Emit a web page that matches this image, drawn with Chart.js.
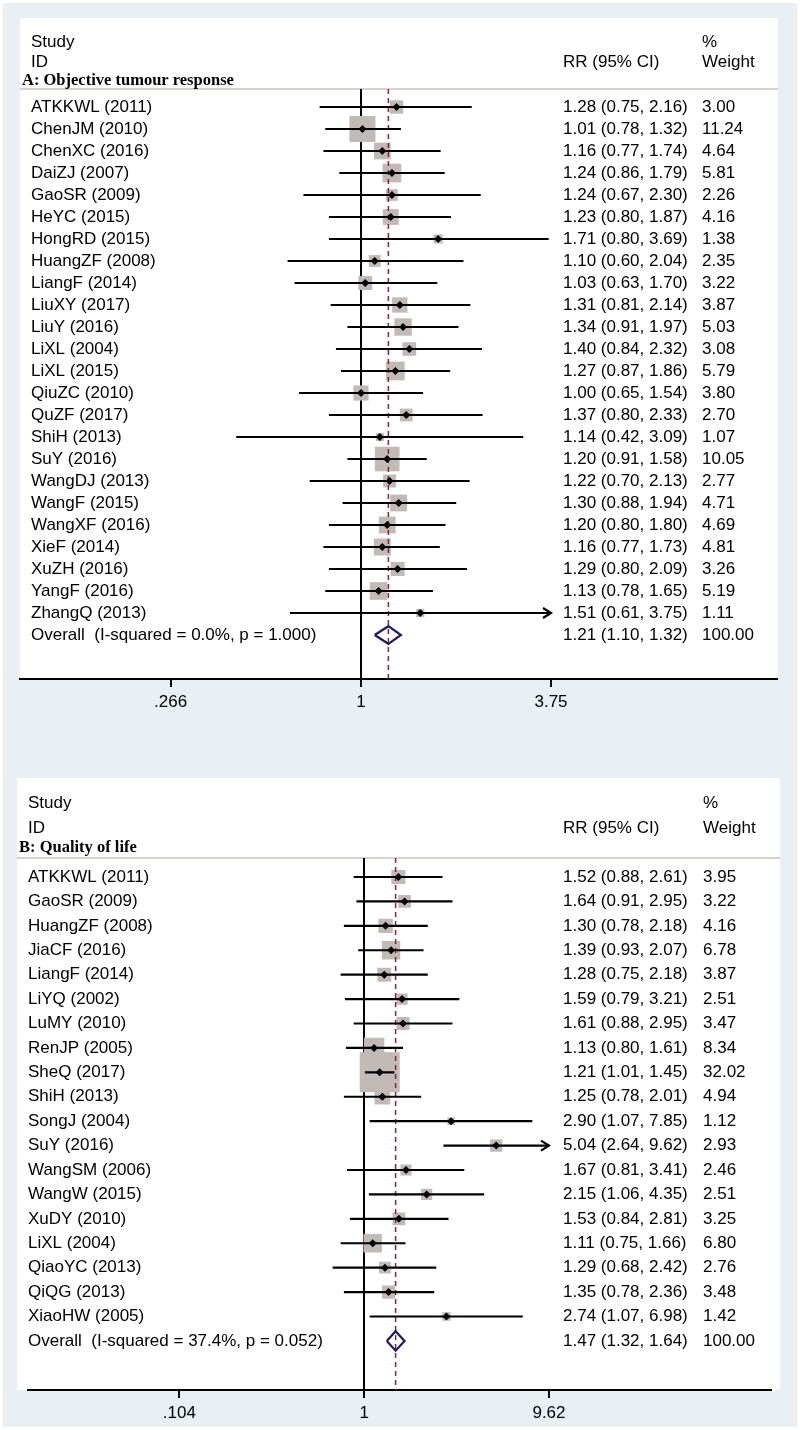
<!DOCTYPE html>
<html>
<head>
<meta charset="utf-8">
<script src="https://cdn.jsdelivr.net/npm/chart.js@4.4.1/dist/chart.umd.min.js"></script>
<style>
  body { margin: 0; background: #fff; }
  #bg { position: absolute; left: 3px; top: 3px; width: 794px; height: 1424px; background: #e9eff2; }
  canvas { position: absolute; left: 0; }
  #chartA { top: 0; }
  #chartB { top: 720px; }
</style>
</head>
<body>
<div id="bg"></div>
<canvas id="chartA" width="800" height="720"></canvas>
<canvas id="chartB" width="800" height="710"></canvas>
<script>
// A: Objective tumour response
const studiesA = ["ATKKWL (2011)", "ChenJM (2010)", "ChenXC (2016)", "DaiZJ (2007)", "GaoSR (2009)",
    "HeYC (2015)", "HongRD (2015)", "HuangZF (2008)", "LiangF (2014)", "LiuXY (2017)", "LiuY (2016)",
    "LiXL (2004)", "LiXL (2015)", "QiuZC (2010)", "QuZF (2017)", "ShiH (2013)", "SuY (2016)",
    "WangDJ (2013)", "WangF (2015)", "WangXF (2016)", "XieF (2014)", "XuZH (2016)", "YangF (2016)",
    "ZhangQ (2013)"];
const rrA = [1.28, 1.01, 1.16, 1.24, 1.24, 1.23, 1.71, 1.10, 1.03, 1.31, 1.34, 1.40, 1.27, 1.00, 1.37,
    1.14, 1.20, 1.22, 1.30, 1.20, 1.16, 1.29, 1.13, 1.51];
const lowA = [0.75, 0.78, 0.77, 0.86, 0.67, 0.80, 0.80, 0.60, 0.63, 0.81, 0.91, 0.84, 0.87, 0.65, 0.80,
    0.42, 0.91, 0.70, 0.88, 0.80, 0.77, 0.80, 0.78, 0.61];
const highA = [2.16, 1.32, 1.74, 1.79, 2.30, 1.87, 3.69, 2.04, 1.70, 2.14, 1.97, 2.32, 1.86, 1.54, 2.33,
    3.09, 1.58, 2.13, 1.94, 1.80, 1.73, 2.09, 1.65, 3.75];
const weightA = [3.00, 11.24, 4.64, 5.81, 2.26, 4.16, 1.38, 2.35, 3.22, 3.87, 5.03, 3.08, 5.79, 3.80, 2.70,
    1.07, 10.05, 2.77, 4.71, 4.69, 4.81, 3.26, 5.19, 1.11];
const overallA = [1.21, 1.10, 1.32];
const overallLabelA = "Overall  (I-squared = 0.0%, p = 1.000)";
const ticksA = [0.266, 1, 3.75];
const tickLabelsA = [".266", "1", "3.75"];

// B: Quality of life
const studiesB = ["ATKKWL (2011)", "GaoSR (2009)", "HuangZF (2008)", "JiaCF (2016)", "LiangF (2014)",
    "LiYQ (2002)", "LuMY (2010)", "RenJP (2005)", "SheQ (2017)", "ShiH (2013)", "SongJ (2004)",
    "SuY (2016)", "WangSM (2006)", "WangW (2015)", "XuDY (2010)", "LiXL (2004)", "QiaoYC (2013)",
    "QiQG (2013)", "XiaoHW (2005)"];
const rrB = [1.52, 1.64, 1.30, 1.39, 1.28, 1.59, 1.61, 1.13, 1.21, 1.25, 2.90, 5.04, 1.67, 2.15, 1.53,
    1.11, 1.29, 1.35, 2.74];
const lowB = [0.88, 0.91, 0.78, 0.93, 0.75, 0.79, 0.88, 0.80, 1.01, 0.78, 1.07, 2.64, 0.81, 1.06, 0.84,
    0.75, 0.68, 0.78, 1.07];
const highB = [2.61, 2.95, 2.18, 2.07, 2.18, 3.21, 2.95, 1.61, 1.45, 2.01, 7.85, 9.62, 3.41, 4.35, 2.81,
    1.66, 2.42, 2.36, 6.98];
const weightB = [3.95, 3.22, 4.16, 6.78, 3.87, 2.51, 3.47, 8.34, 32.02, 4.94, 1.12, 2.93, 2.46, 2.51, 3.25,
    6.80, 2.76, 3.48, 1.42];
const overallB = [1.47, 1.32, 1.64];
const overallLabelB = "Overall  (I-squared = 37.4%, p = 0.052)";
const ticksB = [0.104, 1, 9.62];
const tickLabelsB = [".104", "1", "9.62"];

const SANS = '17px "Liberation Sans", Arial, sans-serif';
const SERIF = 'bold 16.5px "Liberation Serif", "Times New Roman", serif';

// panel background, header, text columns and arrows
const forestText = {
    id: "forestText",
    beforeDraw(chart, args, o) {
        const ctx = chart.ctx;
        ctx.save();
        ctx.fillStyle = "#fff";
        ctx.fillRect(o.panel[0], o.panel[1], o.panel[2], o.panel[3]);
        ctx.strokeStyle = "#cbc3bf";
        ctx.lineWidth = 1.5;
        ctx.beginPath();
        ctx.moveTo(o.panel[0], chart.chartArea.top);
        ctx.lineTo(o.panel[0] + o.panel[2], chart.chartArea.top);
        ctx.stroke();
        ctx.restore();
    },
    afterDatasetsDraw(chart, args, o) {
        const ctx = chart.ctx, x = chart.scales.x, y = chart.scales.y;
        const lim = o.ticks[o.ticks.length - 1];
        ctx.save();
        ctx.strokeStyle = "#000";
        ctx.lineWidth = 2.2;
        o.high.forEach((h, i) => {
            if (h < lim) return;
            const px = x.getPixelForValue(h), py = y.getPixelForValue(i + 1);
            ctx.beginPath();
            ctx.moveTo(px - 8, py - 5);
            ctx.lineTo(px, py);
            ctx.lineTo(px - 8, py + 5);
            ctx.stroke();
        });
        ctx.restore();
    },
    afterDraw(chart, args, o) {
        const ctx = chart.ctx, y = chart.scales.y;
        ctx.save();
        ctx.fillStyle = "#000";
        ctx.textBaseline = "middle";
        ctx.textAlign = "left";
        ctx.font = SANS;
        ctx.fillText("Study", o.labelX, o.head[0]);
        ctx.fillText("ID", o.labelX, o.head[1]);
        ctx.fillText("%", o.wtX, o.head[0]);
        ctx.fillText("Weight", o.wtX, o.head[1]);
        ctx.fillText("RR (95% CI)", o.rrX, o.head[1]);
        ctx.font = SERIF;
        ctx.fillText(o.title, o.panel[0] + 2, o.head[2]);
        ctx.font = SANS;
        const n = o.studies.length;
        o.studies.forEach((s, i) => {
            const py = y.getPixelForValue(i + 1);
            ctx.fillText(s, o.labelX, py);
            ctx.fillText(o.rr[i].toFixed(2) + " (" + o.low[i].toFixed(2) + ", " + o.high[i].toFixed(2) + ")", o.rrX, py);
            ctx.fillText(o.weight[i].toFixed(2), o.wtX, py);
        });
        const py = y.getPixelForValue(n + 1);
        ctx.fillText(o.overallLabel, o.labelX, py);
        ctx.fillText(o.overall[0].toFixed(2) + " (" + o.overall[1].toFixed(2) + ", " + o.overall[2].toFixed(2) + ")", o.rrX, py);
        ctx.fillText("100.00", o.wtX, py);
        ctx.restore();
    }
};

function forest(id, d, L) {
    const n = d.studies.length;
    const rows = d.studies.map((s, i) => i + 1);
    const oRow = n + 1;
    const ci = [];
    rows.forEach((r, i) => {
        ci.push({ x: d.low[i], y: r }, { x: d.high[i], y: r }, { x: d.high[i], y: null });
    });
    const pts = rows.map((r, i) => ({ x: d.rr[i], y: r }));
    const [est, lo, hi] = d.overall;
    const diamond = [
        { x: lo, y: oRow }, { x: est, y: oRow - 0.4 }, { x: hi, y: oRow },
        { x: est, y: oRow + 0.4 }, { x: lo, y: oRow }
    ];
    const refLine = [{ x: est, y: L.yMin }, { x: est, y: L.yMax }];

    return new Chart(document.getElementById(id), {
        type: "scatter",
        data: {
            datasets: [
                {
                    data: pts, order: 0,
                    pointStyle: "rectRot", pointRadius: 4, backgroundColor: "#000", borderWidth: 0,
                },
                {
                    data: ci, order: 1, showLine: true, spanGaps: false,
                    borderColor: "#000", borderWidth: 2.2, pointRadius: 0,
                },
                {
                    data: diamond, order: 2, showLine: true,
                    borderColor: "#1d1d5e", borderWidth: 2.2, borderJoinStyle: "miter", pointRadius: 0,
                },
                {
                    data: refLine, order: 3, showLine: true,
                    borderColor: "#8e1f35", borderWidth: 1.5, borderDash: [5, 4], pointRadius: 0,
                },
                {
                    data: pts, order: 4,
                    pointStyle: "rect", backgroundColor: "#c1bab6", borderWidth: 0,
                    pointRadius: (c) => L.box * Math.sqrt(d.weight[c.dataIndex]) / Math.SQRT2,
                },
            ],
        },
        options: {
            responsive: false,
            animation: false,
            events: [],
            layout: { padding: { left: L.left, right: L.right, top: L.top, bottom: L.bottom } },
            plugins: {
                legend: { display: false },
                tooltip: { enabled: false },
                forestText: Object.assign({}, d, L),
            },
            scales: {
                x: {
                    type: "logarithmic",
                    min: L.xMin,
                    max: L.xMax,
                    bounds: "data",
                    afterBuildTicks: (s) => { s.ticks = d.ticks.map((v) => ({ value: v })); },
                    afterFit: (s) => { s.height = 30; },
                    ticks: {
                        autoSkip: false,
                        maxRotation: 0,
                        padding: 5,
                        color: "#000",
                        font: { family: '"Liberation Sans", Arial, sans-serif', size: 17 },
                        callback: (v, i) => d.tickLabels[i],
                    },
                    grid: {
                        color: (c) => (c.tick && c.tick.value === 1 ? "#000" : "rgba(0,0,0,0)"),
                        lineWidth: (c) => (c.tick && c.tick.value === 1 ? 2 : 0),
                        tickColor: "#000",
                        tickWidth: 2,
                        tickLength: 8,
                    },
                    border: { display: true, color: "#000", width: 2 },
                },
                y: {
                    type: "linear",
                    reverse: true,
                    min: L.yMin,
                    max: L.yMax,
                    display: false,
                },
            },
        },
        plugins: [forestText],
    });
}

forest("chartA", {
    studies: studiesA, rr: rrA, low: lowA, high: highA, weight: weightA,
    overall: overallA, overallLabel: overallLabelA, ticks: ticksA, tickLabels: tickLabelsA,
    title: "A: Objective tumour response",
}, {
    left: 20, right: 22, top: 89, bottom: 11,
    xMin: 0.09329, xMax: 18.19, yMin: 0.182, yMax: 27,
    panel: [20, 18, 758, 661], head: [42, 62, 81],
    labelX: 31, rrX: 563, wtX: 702, box: 7.76,
});

forest("chartB", {
    studies: studiesB, rr: rrB, low: lowB, high: highB, weight: weightB,
    overall: overallB, overallLabel: overallLabelB, ticks: ticksB, tickLabels: tickLabelsB,
    title: "B: Quality of life",
}, {
    left: 17, right: 20, top: 138, bottom: 10,
    xMin: 0.01635, xMax: 147.2, yMin: 0.221, yMax: 22.01,
    panel: [17, 58, 763, 612], head: [83, 108, 128],
    labelX: 28, rrX: 563, wtX: 703, box: 7.07,
});
</script>
</body>
</html>
